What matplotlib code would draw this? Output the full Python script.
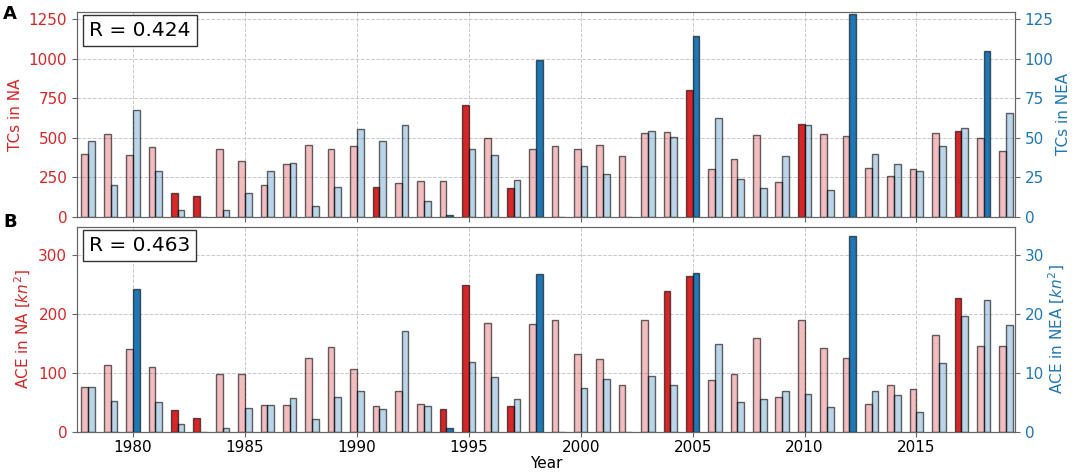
import matplotlib
matplotlib.use("Agg")
import matplotlib.pyplot as plt
import numpy as np

years = list(range(1978, 2020))

# Panel A: number of TCs
tc_na = [400, 526, 391, 442, 151, 133, 427, 351, 202, 332, 454, 427, 448, 187, 213, 225, 225,
         705, 499, 181, 431, 448, 427, 454, 385, 530, 537, 800, 305, 368, 516, 221, 589, 526,
         511, 311, 259, 305, 528, 541, 497, 415]
tc_nea = [48, 20.2, 67.4, 29.2, 4.2, 0, 4.2, 15.3, 29.2, 34.3, 7.2, 19.1, 55.4, 48, 58, 10.1, 1.0,
          43.1, 39.1, 23.2, 99.3, 0, 32.2, 27.1, 0, 54.1, 50.3, 114.3, 62.3, 24.2, 18.1, 38.3, 58, 17.2,
          128, 40, 33.3, 29, 45, 56.2, 105, 65.8]
hl_tc_na = [1982, 1983, 1991, 1995, 1997, 2005, 2010, 2017]
hl_tc_nea = [1994, 1998, 2005, 2012, 2018]

# Panel B: ACE
ace_na = [75.8, 114.3, 141, 110.4, 37.4, 23.8, 97.9, 99, 45.3, 45.3, 125, 145, 107, 44.7, 69, 47, 39.6,
          249.6, 185, 44.7, 182.8, 189.6, 131.9, 123.4, 79.8, 190.7, 239.4, 264.3, 87.7, 97.9, 159.6, 60,
          189.6, 143.2, 126.2, 47, 79.2, 73.6, 164.1, 228.1, 145.5, 145.5]
ace_nea = [7.58, 5.2, 24.3, 5.1, 1.36, 0, 0.68, 4.08, 4.53, 5.72, 2.15, 5.89, 7.02, 3.9, 17.15, 4.47, 0.62,
           11.83, 9.28, 5.6, 26.8, 0, 7.53, 8.94, 0, 9.45, 8.04, 27.0, 14.9, 5.15, 5.6, 7.0, 6.5, 4.3,
           33.3, 6.96, 6.28, 3.4, 11.66, 19.7, 22.4, 18.2]
hl_ace_na = [1982, 1983, 1994, 1995, 1997, 2004, 2005, 2017]
hl_ace_nea = [1980, 1994, 1998, 2005, 2012]

panel_letters = ["A", "B"]
r_values = ["R = 0.424", "R = 0.463"]
left_labels = ["TCs in NA", "ACE in NA [$kn^2$]"]
right_labels = ["TCs in NEA", "ACE in NEA [$kn^2$]"]
xticks = [1980, 1985, 1990, 1995, 2000, 2005, 2010, 2015]

RED = "#d62728"
BLUE = "#1f77b4"
EDGE = (0, 0, 0, 0.6)
SPINE = "#666666"

fig = plt.figure(figsize=(10.72, 4.73), dpi=100)
L, R = 77 / 1072, 1015 / 1072
axA = fig.add_axes([L, 1 - 217 / 473, R - L, (217 - 11.7) / 473])
axB = fig.add_axes([L, 1 - 432 / 473, R - L, (432 - 226.7) / 473])

panels = [
    (axA, tc_na, tc_nea, hl_tc_na, hl_tc_nea, (0, 1296), (0, 129.6),
     [0, 250, 500, 750, 1000, 1250], [0, 25, 50, 75, 100, 125]),
    (axB, ace_na, ace_nea, hl_ace_na, hl_ace_nea, (0, 348.6), (0, 34.86),
     [0, 100, 200, 300], [0, 10, 20, 30]),
]
letter_y = [1 - 5 / 473, 1 - 213 / 473]

w = 0.3
for i, (ax, na, nea, hl_na, hl_nea, yl, yr, lt, rt) in enumerate(panels):
    axr = ax.twinx()
    na_cols = [RED if y in hl_na else (214/255, 39/255, 40/255, 0.3) for y in years]
    nea_cols = [BLUE if y in hl_nea else (31/255, 119/255, 180/255, 0.3) for y in years]
    ax.set_axisbelow(True)
    ax.grid(True, linestyle="--", color="#bbbbbb", linewidth=0.7, alpha=0.8)
    ax.bar(years, na, width=-w, align="edge", color=na_cols, edgecolor=EDGE, linewidth=1.0, zorder=2)
    axr.bar(years, nea, width=w, align="edge", color=nea_cols, edgecolor=EDGE, linewidth=1.0, zorder=2)
    ax.set_xlim(1977.5, 2019.4)
    ax.set_ylim(*yl)
    axr.set_ylim(*yr)
    ax.set_yticks(lt)
    axr.set_yticks(rt)
    ax.set_xticks(xticks)
    ax.tick_params(axis="y", colors=SPINE, labelcolor=RED, labelsize=11)
    axr.tick_params(axis="y", colors=SPINE, labelcolor=BLUE, labelsize=11)
    ax.tick_params(axis="x", colors=SPINE, labelcolor="black", labelsize=11, pad=2)
    ax.set_ylabel(left_labels[i], color=RED, fontsize=11)
    axr.set_ylabel(right_labels[i], color=BLUE, fontsize=11, labelpad=2)
    for a in (ax, axr):
        for s in a.spines.values():
            s.set_color(SPINE)
    ax.text(0.013, 0.955, r_values[i], transform=ax.transAxes, fontsize=14.5, va="top", ha="left",
            bbox=dict(boxstyle="square,pad=0.3", facecolor="white", edgecolor="#333333"), zorder=5)
    fig.text(0.003, letter_y[i], panel_letters[i], fontsize=13, fontweight="bold",
             va="top", ha="left")

axA.tick_params(axis="x", labelbottom=False)
axB.set_xlabel("Year", fontsize=11, labelpad=1)

fig.savefig("out.png", dpi=100)
